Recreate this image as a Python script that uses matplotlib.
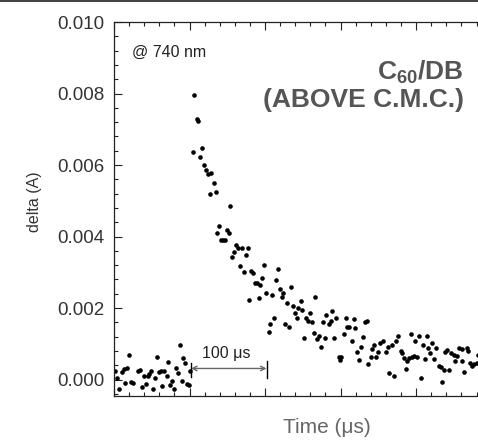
import matplotlib
matplotlib.use("Agg")
import matplotlib.pyplot as plt
from matplotlib.patches import Rectangle
from matplotlib.ticker import MultipleLocator, NullFormatter

plt.rcParams['font.family'] = ['Liberation Sans', 'DejaVu Sans']
plt.rcParams['mathtext.fontset'] = 'custom'
plt.rcParams['mathtext.rm'] = 'Liberation Sans'
plt.rcParams['mathtext.bf'] = 'Liberation Sans:bold'

# Time (us) and delta (A) readings
time_us = [
    0.9, 4.4, 7.0, 10.2, 13.2, 14.6, 17.6, 19.9, 22.1, 24.8, 32.2, 34.4, 37.1, 40.1,
    42.0, 44.6, 46.8, 49.0, 51.3, 54.3, 57.0, 59.6, 62.3, 64.0, 66.2, 69.8, 71.9, 74.2,
    76.8, 79.1, 82.1, 84.8, 87.0, 89.7, 91.8, 94.4, 96.7, 99.3, 101.1,
    104.6, 106.4, 109.5, 111.7, 114.3, 117.0, 118.8, 121.5, 124.1, 126.8, 128.9, 131.8,
    134.4, 136.4, 139.1, 141.7, 144.4, 147.0, 149.3, 151.9, 154.0, 156.7, 158.9, 161.6,
    164.5, 166.2, 169.5, 171.9, 174.2, 176.8, 178.4, 181.9, 184.1, 186.8, 189.8, 191.7,
    193.8, 196.0, 199.1, 201.7, 204.6, 206.6, 208.9, 211.3, 214.2, 216.8, 219.5, 222.1,
    224.2, 226.8, 229.5, 231.8, 234.0, 236.7, 239.3, 241.7, 244.1, 247.3, 249.4, 251.7,
    253.9, 257.0, 258.9, 261.6, 264.5, 266.6, 269.3, 271.8, 273.8, 276.4, 279.1, 281.2,
    284.8, 287.0, 289.1, 291.7, 293.6, 297.4, 299.3, 300.7, 304.2, 306.6, 309.0, 311.7,
    314.5, 317.2, 319.2, 321.6, 324.1, 326.8, 329.1, 332.4, 334.7, 336.7, 339.7, 341.7,
    344.8, 346.6, 349.3, 352.3, 356.3, 359.9, 362.5, 364.2, 367.8, 371.3, 373.9, 376.6,
    379.7, 381.9, 384.1, 386.5, 387.7, 390.3, 393.8, 394.3, 397.4, 399.1, 401.7, 404.0,
    406.2, 408.9, 411.3, 413.9, 416.2, 418.9, 421.2, 423.8, 426.2, 430.1, 432.7, 434.4,
    436.7, 438.1, 440.4, 443.7, 446.8, 449.7, 451.6, 453.6, 457.2, 460.3, 461.3, 464.0,
    467.2, 469.3, 471.9, 474.6, 477.2, 480.8, 481.4,
]
delta_a = [
    0.00025, 0.00005, -0.00026, 0.00021, 0.00029, -0.00009, 0.00031, 0.00068, -0.00008,
    -0.00011, 0.00025, 0.00027, -0.00022, 0.00010, -0.00013, 0.00010, 0.00015, 0.00025,
    -0.00027, 0.00003, 0.00064, 0.00021, 0.00025, -0.00018, 0.00024, 0.00010, 0.00050,
    -0.00015, -0.00004, -0.00027, 0.00033, 0.00017, 0.00096, -0.00003, 0.00060, 0.00046,
    -0.00013, -0.00015, 0.00024,
    0.00636, 0.00797, 0.00728, 0.00723, 0.00622, 0.00649, 0.00599, 0.00586, 0.00575,
    0.00519, 0.00578, 0.00550, 0.00524, 0.00409, 0.00430, 0.00391, 0.00389, 0.00390,
    0.00419, 0.00411, 0.00485, 0.00344, 0.00357, 0.00376, 0.00369, 0.00317, 0.00367,
    0.00302, 0.00348, 0.00367, 0.00222, 0.00304, 0.00299, 0.00271, 0.00269, 0.00228,
    0.00264, 0.00284, 0.00321, 0.00243, 0.00133, 0.00154, 0.00237, 0.00173, 0.00279,
    0.00309, 0.00254, 0.00230, 0.00242, 0.00154, 0.00213, 0.00146, 0.00260, 0.00206,
    0.00185, 0.00172, 0.00199, 0.00220, 0.00194, 0.00115, 0.00172, 0.00163, 0.00187,
    0.00162, 0.00130, 0.00231, 0.00113, 0.00122, 0.00091, 0.00160, 0.00115, 0.00180,
    0.00156, 0.00164, 0.00192, 0.00117, 0.00171, 0.00062, 0.00054, 0.00064, 0.00128,
    0.00171, 0.00148, 0.00148, 0.00108, 0.00169, 0.00144, 0.00076, 0.00056, 0.00090,
    0.00120, 0.00162, 0.00163, 0.00043, 0.00064, 0.00086, 0.00096, 0.00063, 0.00076,
    0.00101, 0.00108, 0.00077, 0.00092, 0.00017, 0.00096, 0.00011, 0.00109, 0.00122,
    0.00081, 0.00074, 0.00061, 0.00029, 0.00053, 0.00060, 0.00127, 0.00063, 0.00065,
    0.00109, 0.00063, 0.00122, 0.00003, 0.00098, 0.00058, 0.00122, 0.00087, 0.00075,
    0.00103, 0.00058, 0.00087, 0.00038, 0.00034, -0.00006, 0.00027, 0.00078, 0.00083,
    0.00027, 0.00074, 0.00070, 0.00053, 0.00065, 0.00088, 0.00086, 0.00053, 0.00022,
    0.00089, 0.00080, 0.00045, 0.00038, 0.00043, 0.00045, 0.00068,
]

y_ticks = [0.000, 0.002, 0.004, 0.006, 0.008, 0.010]
y_ticklabels = ["0.000", "0.002", "0.004", "0.006", "0.008", "0.010"]
scale_start, scale_end = 102, 202

W, H = 478, 441
fig = plt.figure(figsize=(W / 100, H / 100), dpi=100)
ax = fig.add_axes([114 / W, 45 / H, 426 / W, 374 / H])

ax.plot(time_us, delta_a, 'o', ms=3.3, color='black', mec='none', clip_on=True)

ax.set_xlim(0, 564)
ax.set_ylim(-0.00046, 0.010)
ax.set_yticks(y_ticks)
ax.set_yticklabels(y_ticklabels)
ax.yaxis.set_minor_locator(MultipleLocator(0.0004))
ax.xaxis.set_major_locator(MultipleLocator(100))
ax.xaxis.set_minor_locator(MultipleLocator(20))
ax.xaxis.set_major_formatter(NullFormatter())

ax.tick_params(which='both', direction='in', top=True, right=False, color='#222222', width=0.8)
ax.tick_params(which='major', length=5.5, labelsize=13.5, pad=7, labelcolor='#333333')
ax.tick_params(which='minor', length=3)
for s in ax.spines.values():
    s.set_linewidth(0.9)
    s.set_color('#222222')

ax.set_ylabel('delta (A)', fontsize=11.5, color='#333333')
ax.yaxis.set_label_coords(-0.169, 0.52)
ax.set_xlabel('Time (\u03bcs)', fontsize=15, color='#666666')
ax.xaxis.set_label_coords((327 - 114) / 426, -0.058)

# scale bar
ax.annotate('', xy=(scale_start, 0.00031), xytext=(scale_end, 0.00031),
            arrowprops=dict(arrowstyle='<->', color='#666666', lw=1.0,
                            mutation_scale=8, shrinkA=0, shrinkB=0))
ax.plot([scale_start, scale_start], [0.00006, 0.00046], color='black', lw=1.0)
ax.plot([scale_end, scale_end], [0.00005, 0.00052], color='black', lw=1.0)
ax.text((scale_start + scale_end) / 2 - 4, 0.00073, '100 \u03bcs', fontsize=11.5,
        ha='center', va='center', color='#222222')

fig.text(132 / W, 1 - 52 / H, '@ 740 nm', fontsize=11.5, ha='left', va='center', color='#222222')
fig.text(464 / W, 1 - 72 / H, r'C$_{\mathbf{60}}$/DB', fontsize=19, fontweight='bold',
         ha='right', va='center', color='#555555')
fig.text(464 / W, 1 - 100 / H, '(ABOVE C.M.C.)', fontsize=19, fontweight='bold',
         ha='right', va='center', color='#555555')

fig.add_artist(Rectangle((0, 1 - 2 / H), 1, 2 / H, transform=fig.transFigure,
                         color='#444444', lw=0))

fig.savefig('out.png', dpi=100)
